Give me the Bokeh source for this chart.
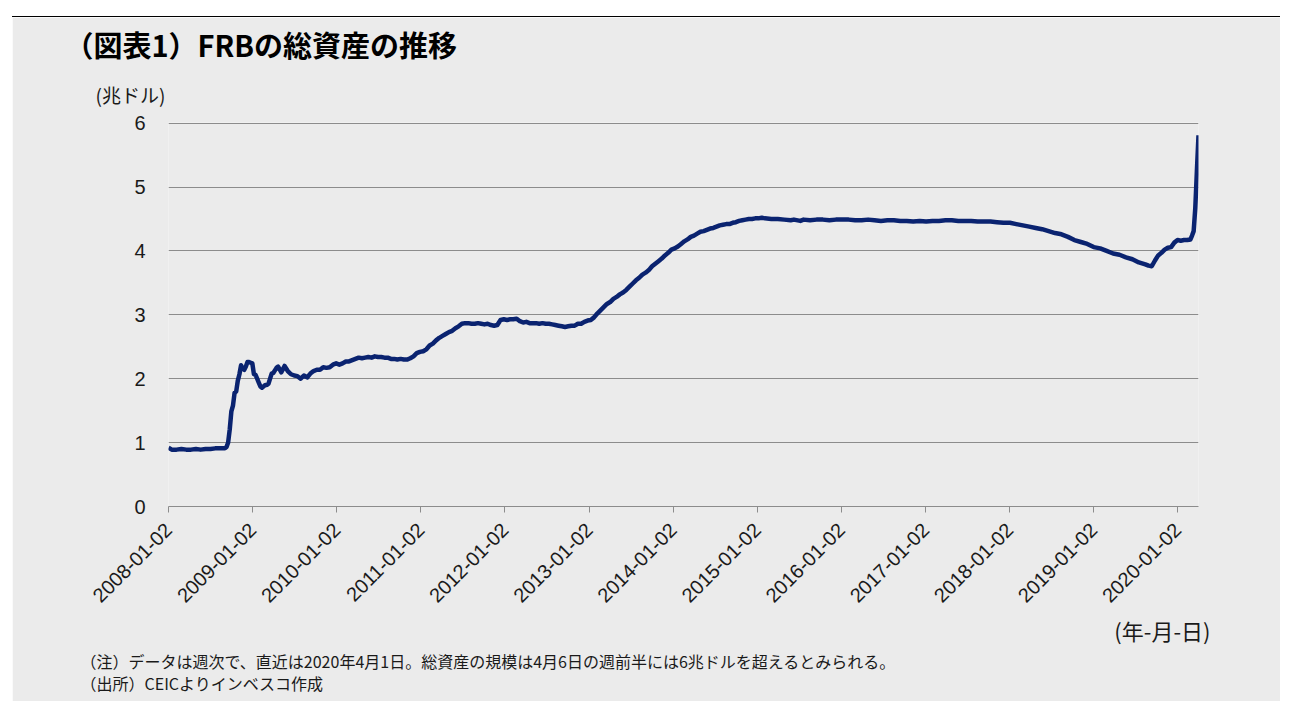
import math
import pandas as pd
from bokeh.plotting import figure
from bokeh.models import Range1d, FixedTicker, Title
from bokeh.embed import file_html
from bokeh.resources import INLINE

# ---- data (trillion USD) ----
dates = [
    "2008-01-02", "2008-01-16", "2008-02-06", "2008-02-27", "2008-03-19", "2008-04-09", "2008-04-30",
    "2008-05-21", "2008-06-11", "2008-07-02", "2008-07-23", "2008-08-13", "2008-09-03", "2008-09-10",
    "2008-09-17", "2008-09-24", "2008-10-01", "2008-10-08", "2008-10-15", "2008-10-22", "2008-10-29",
    "2008-11-05", "2008-11-12", "2008-11-19", "2008-11-26", "2008-12-03", "2008-12-10", "2008-12-17",
    "2008-12-24", "2008-12-31",
    "2009-01-07", "2009-01-14", "2009-01-21", "2009-01-28", "2009-02-04", "2009-02-11", "2009-02-25",
    "2009-03-04", "2009-03-11", "2009-03-25", "2009-04-01", "2009-04-15", "2009-04-22", "2009-05-06",
    "2009-05-20", "2009-06-03", "2009-06-17", "2009-07-01", "2009-07-15", "2009-07-29", "2009-08-12",
    "2009-08-26", "2009-09-09", "2009-09-23", "2009-10-07", "2009-10-21", "2009-11-04", "2009-11-18",
    "2009-12-02", "2009-12-16", "2009-12-30",
    "2010-01-13", "2010-01-27", "2010-02-10", "2010-02-24", "2010-03-10", "2010-03-24", "2010-04-07",
    "2010-04-21", "2010-05-05", "2010-05-19", "2010-06-02", "2010-06-16", "2010-06-30", "2010-07-14",
    "2010-07-28", "2010-08-11", "2010-08-25", "2010-09-08", "2010-09-22", "2010-10-06", "2010-10-20",
    "2010-11-03", "2010-11-17", "2010-12-01", "2010-12-15", "2010-12-29",
    "2011-01-12", "2011-01-26", "2011-02-09", "2011-02-23", "2011-03-09", "2011-03-23", "2011-04-06",
    "2011-04-20", "2011-05-04", "2011-05-18", "2011-06-01", "2011-06-15", "2011-06-29", "2011-07-13",
    "2011-07-27", "2011-08-10", "2011-08-24", "2011-09-07", "2011-09-21", "2011-10-05", "2011-10-19",
    "2011-11-02", "2011-11-16", "2011-11-30", "2011-12-14", "2011-12-28",
    "2012-01-11", "2012-01-25", "2012-02-08", "2012-02-22", "2012-03-07", "2012-03-21", "2012-04-04",
    "2012-04-18", "2012-05-02", "2012-05-16", "2012-05-30", "2012-06-13", "2012-06-27", "2012-07-11",
    "2012-07-25", "2012-08-08", "2012-08-22", "2012-09-05", "2012-09-19", "2012-10-03", "2012-10-17",
    "2012-10-31", "2012-11-14", "2012-11-28", "2012-12-12", "2012-12-26",
    "2013-01-09", "2013-01-23", "2013-02-06", "2013-02-20", "2013-03-06", "2013-03-20", "2013-04-03",
    "2013-04-17", "2013-05-01", "2013-05-15", "2013-05-29", "2013-06-12", "2013-06-26", "2013-07-10",
    "2013-07-24", "2013-08-07", "2013-08-21", "2013-09-04", "2013-09-18", "2013-10-02", "2013-10-16",
    "2013-10-30", "2013-11-13", "2013-11-27", "2013-12-11", "2013-12-25",
    "2014-01-08", "2014-01-22", "2014-02-05", "2014-02-19", "2014-03-05", "2014-03-19", "2014-04-02",
    "2014-04-16", "2014-04-30", "2014-05-14", "2014-05-28", "2014-06-11", "2014-06-25", "2014-07-09",
    "2014-07-23", "2014-08-06", "2014-08-20", "2014-09-03", "2014-09-17", "2014-10-01", "2014-10-15",
    "2014-10-29", "2014-11-12", "2014-11-26", "2014-12-10", "2014-12-24",
    "2015-01-07", "2015-01-21", "2015-02-04", "2015-03-04", "2015-04-01", "2015-04-29", "2015-05-27",
    "2015-06-10", "2015-07-08", "2015-07-22", "2015-08-19", "2015-09-16", "2015-10-14", "2015-11-11",
    "2015-12-09",
    "2016-01-06", "2016-02-03", "2016-03-02", "2016-03-30", "2016-04-27", "2016-05-25", "2016-06-22",
    "2016-07-20", "2016-08-17", "2016-09-14", "2016-10-12", "2016-11-09", "2016-12-07",
    "2017-01-04", "2017-02-01", "2017-03-01", "2017-03-29", "2017-04-26", "2017-05-24", "2017-06-21",
    "2017-07-19", "2017-08-16", "2017-09-13", "2017-10-11", "2017-11-08", "2017-12-06",
    "2018-01-03", "2018-01-31", "2018-02-28", "2018-03-28", "2018-04-25", "2018-05-23", "2018-06-20",
    "2018-07-18", "2018-08-15", "2018-09-12", "2018-10-10", "2018-11-07", "2018-12-05",
    "2019-01-02", "2019-01-30", "2019-02-27", "2019-03-27", "2019-04-24", "2019-05-22", "2019-06-19",
    "2019-07-17", "2019-08-14", "2019-08-28", "2019-09-11", "2019-09-25", "2019-10-09", "2019-10-23",
    "2019-11-06", "2019-11-20", "2019-12-04", "2019-12-18",
    "2020-01-01", "2020-01-15", "2020-01-29", "2020-02-12", "2020-02-26", "2020-03-04", "2020-03-11",
    "2020-03-18", "2020-03-25", "2020-04-01",
]
total_assets = [
    0.92, 0.89, 0.89, 0.90, 0.89, 0.89, 0.90,
    0.89, 0.90, 0.90, 0.91, 0.91, 0.91, 0.93,
    1.00, 1.21, 1.49, 1.58, 1.78, 1.80, 1.97,
    2.07, 2.21, 2.16, 2.14, 2.19, 2.26, 2.26,
    2.25, 2.24,
    2.07, 2.06, 2.00, 1.94, 1.88, 1.86, 1.90,
    1.90, 1.92, 2.08, 2.09, 2.17, 2.19, 2.10,
    2.20, 2.12, 2.07, 2.05, 2.04, 2.00, 2.05,
    2.02, 2.08, 2.12, 2.14, 2.14, 2.18, 2.17,
    2.18, 2.22, 2.24,
    2.22, 2.24, 2.27, 2.27, 2.29, 2.31, 2.33,
    2.32, 2.33, 2.34, 2.33, 2.35, 2.34, 2.34,
    2.33, 2.33, 2.31, 2.31, 2.30, 2.31, 2.30,
    2.30, 2.32, 2.35, 2.40, 2.42,
    2.43, 2.46, 2.52, 2.55, 2.60, 2.64, 2.67,
    2.70, 2.73, 2.75, 2.79, 2.82, 2.86, 2.87,
    2.87, 2.86, 2.86, 2.87, 2.86, 2.85, 2.86,
    2.84, 2.83, 2.84, 2.92, 2.93,
    2.92, 2.93, 2.93, 2.94, 2.90, 2.88, 2.89,
    2.87, 2.87, 2.87, 2.86, 2.87, 2.86, 2.86,
    2.85, 2.84, 2.83, 2.82, 2.81, 2.82, 2.83,
    2.83, 2.86, 2.86, 2.89, 2.91,
    2.92, 2.96, 3.02, 3.07, 3.12, 3.17, 3.20,
    3.25, 3.28, 3.32, 3.35, 3.39, 3.44, 3.49,
    3.54, 3.58, 3.63, 3.66, 3.70, 3.76, 3.80,
    3.84, 3.88, 3.93, 3.97, 4.02,
    4.04, 4.07, 4.11, 4.15, 4.18, 4.22, 4.24,
    4.27, 4.30, 4.31, 4.33, 4.35, 4.36, 4.38,
    4.40, 4.41, 4.42, 4.42, 4.44, 4.45, 4.47,
    4.48, 4.49, 4.50, 4.50, 4.51,
    4.51, 4.52, 4.51, 4.50, 4.50, 4.49, 4.48,
    4.49, 4.47, 4.49, 4.48, 4.49, 4.49, 4.48,
    4.49,
    4.49, 4.49, 4.48, 4.48, 4.49, 4.48, 4.47,
    4.48, 4.48, 4.47, 4.47, 4.46, 4.47,
    4.46, 4.47, 4.47, 4.48, 4.48, 4.47, 4.47,
    4.47, 4.46, 4.46, 4.46, 4.45, 4.44,
    4.44, 4.42, 4.40, 4.38, 4.36, 4.34, 4.31,
    4.28, 4.26, 4.22, 4.17, 4.14, 4.11,
    4.06, 4.04, 4.00, 3.96, 3.94, 3.90, 3.87,
    3.82, 3.79, 3.77, 3.76, 3.85, 3.93, 3.97,
    4.02, 4.05, 4.06, 4.13,
    4.17, 4.16, 4.17, 4.17, 4.18, 4.24, 4.31,
    4.67, 5.25, 5.81,
]
tick_labels = ["2008-01-02", "2009-01-02", "2010-01-02", "2011-01-02", "2012-01-02", "2013-01-02",
               "2014-01-02", "2015-01-02", "2016-01-02", "2017-01-02", "2018-01-02", "2019-01-02",
               "2020-01-02"]
y_ticks = [0, 1, 2, 3, 4, 5, 6]

title_text = "（図表1）FRBの総資産の推移"
y_unit = "(兆ドル)"
x_unit = "(年-月-日)"
note1 = "（注）データは週次で、直近は2020年4月1日。総資産の規模は4月6日の週前半には6兆ドルを超えるとみられる。"
note2 = "（出所）CEICよりインベスコ作成"


def ms(s):
    return pd.Timestamp(s).value / 1e6


xs = [ms(d) for d in dates]
tick_ms = [ms(t) for t in tick_labels]

BG = "#ebebeb"
GRID = "#8c8c8c"
LINE = "#0a2370"
TXT = "#1a1a1a"
LATIN = "Liberation Sans"
JP = "Noto Sans CJK JP"

p = figure(width=1268, height=685, output_backend="svg", toolbar_location=None,
           x_range=Range1d(xs[0], xs[-1]), y_range=Range1d(0, 6.01),
           min_border_left=156, min_border_right=82, min_border_top=105, min_border_bottom=196,
           background_fill_color=BG, border_fill_color=BG, outline_line_color=None)
p.margin = (16, 15, 19, 12)
p.styles = {"border-top": "1px solid #000000"}

p.line(xs, total_assets, line_color=LINE, line_width=4.5, line_join="round")

# y axis
p.yaxis.ticker = FixedTicker(ticks=y_ticks)
p.yaxis.axis_line_color = None
p.yaxis.major_tick_line_color = None
p.yaxis.minor_tick_line_color = None
p.yaxis.major_label_text_font = LATIN
p.yaxis.major_label_text_font_size = "20px"
p.yaxis.major_label_text_color = TXT
p.yaxis.major_label_standoff = 17

# x axis
p.xaxis.ticker = FixedTicker(ticks=tick_ms)
p.xaxis.major_label_overrides = {t: lab for t, lab in zip(tick_ms, tick_labels)}
p.xaxis.axis_line_color = GRID
p.xaxis.major_tick_line_color = GRID
p.xaxis.major_tick_in = 0
p.xaxis.major_tick_out = 6
p.xaxis.minor_tick_line_color = None
p.xaxis.major_label_orientation = math.pi / 4
p.xaxis.major_label_text_font = LATIN
p.xaxis.major_label_text_font_size = "20px"
p.xaxis.major_label_text_color = TXT
p.xaxis.major_label_standoff = 14

p.xgrid.grid_line_color = None
p.ygrid.ticker = FixedTicker(ticks=y_ticks[1:])
p.ygrid.grid_line_color = GRID
p.ygrid.grid_line_width = 1

# texts above the frame (first added sits nearest the frame)
p.add_layout(Title(text=y_unit, align="left", offset=-73, text_font=JP, text_font_size="19px",
                   text_font_style="normal", text_color=TXT, standoff=29), "above")
p.add_layout(Title(text=title_text, align="left", offset=-104, text_font=JP, text_font_size="29px",
                   text_font_style="bold", text_color="#000000", standoff=0), "above")

# texts below the x axis
p.add_layout(Title(text=x_unit, align="right", offset=-12, text_font=JP, text_font_size="22px",
                   text_font_style="normal", text_color=TXT, standoff=0), "below")
p.add_layout(Title(text=note1 + "\n" + note2, align="left", offset=-88, text_font=JP,
                   text_font_size="16px", text_line_height=0.92,
                   text_font_style="normal", text_color=TXT, standoff=3), "below")

open("out.html", "w").write(file_html(p, INLINE))
